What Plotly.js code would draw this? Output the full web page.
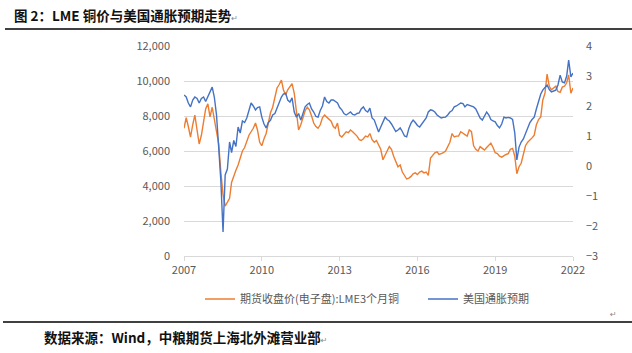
<!DOCTYPE html>
<html><head><meta charset="utf-8">
<script src="https://cdn.plot.ly/plotly-3.0.1.min.js"></script>
<style>body{margin:0;background:#fff}#chart{width:632px;height:353px}</style>
</head><body><div id="chart"></div>
<script>
// Monthly observations starting May 2007
const startYear = 2007, startMonth = 5;
const copper = [
7300,7900,7400,6800,7500,8050,7200,6400,6900,7600,8400,8700,7950,8500,7800,7300,6400,4800,3500,2850,
3050,3300,4200,4600,4900,5200,5600,6000,6200,6600,6900,7100,7300,7600,7200,6500,6300,6700,7000,7600,
8200,8500,9100,9600,9800,10050,9500,9200,9500,9700,9850,9300,8200,7200,7500,7900,8300,8500,8350,8000,
7600,7400,7300,7500,7900,8050,7950,7850,7700,7400,7300,7600,6900,6800,6950,7100,7050,7200,7100,7000,
6850,6650,6600,6700,6850,6800,7000,6650,6500,6600,6300,6100,5500,5800,6000,6250,6100,5700,5450,5100,
5200,4800,4600,4400,4450,4550,4700,4750,4650,4800,4850,4750,4800,4600,5600,5750,5900,5950,5800,5850,
5900,6000,6300,6500,7000,6800,6850,6850,7100,7000,6900,6850,7200,7100,6300,6100,6000,6250,6150,6050,
6200,6350,6450,6200,5900,5850,5700,5650,5750,5800,5850,6100,6150,5700,4700,5100,5300,5900,6300,6500,
6600,6750,6900,7500,7800,7950,8900,9300,10400,9700,9500,9600,9700,9400,9350,9650,9700,9900,10350,9300,
9600];
const inflation = [
2.37,2.30,2.10,1.97,2.20,2.30,2.25,2.10,2.25,2.30,2.15,2.30,2.50,2.63,2.30,1.70,0.60,-0.50,-2.20,-0.30,
-0.10,0.80,0.45,0.85,0.65,1.30,1.10,1.50,1.45,1.60,1.85,2.10,2.00,1.87,1.95,1.97,1.63,1.40,1.27,1.45,
1.53,1.70,1.75,1.93,2.10,2.30,2.40,2.43,2.20,2.13,2.27,1.80,1.63,1.75,1.53,1.75,1.97,2.05,2.10,1.90,
1.80,1.65,1.63,1.85,2.00,2.30,2.15,2.10,2.20,2.20,2.15,2.10,1.95,1.87,1.75,1.70,1.75,1.80,1.72,1.70,
1.75,1.77,1.90,1.97,1.85,1.80,1.93,1.60,1.53,1.30,1.13,1.30,1.45,1.63,1.55,1.50,1.40,1.27,1.15,1.20,
1.27,1.15,1.00,0.97,1.25,1.43,1.53,1.45,1.35,1.30,1.40,1.53,1.60,1.80,1.87,1.85,1.80,1.70,1.65,1.60,
1.62,1.63,1.70,1.80,1.85,1.97,2.00,2.05,2.10,2.08,1.97,2.05,2.03,2.00,1.97,1.90,1.75,1.60,1.53,1.65,
1.80,1.70,1.55,1.50,1.47,1.35,1.27,1.40,1.63,1.60,1.62,1.60,1.55,1.10,0.20,0.63,0.80,0.90,1.10,1.25,
1.45,1.55,1.63,1.90,2.20,2.40,2.53,2.60,2.70,2.55,2.47,2.50,2.53,2.70,3.03,2.80,2.77,3.00,3.53,2.97,
3.10];
const tickYears = [2007, 2010, 2013, 2016, 2019, 2022];
const seriesNames = ['期货收盘价(电子盘):LME3个月铜', '美国通胀预期'];
const titleText = '图 2：LME 铜价与美国通胀预期走势';
const sourceText = '数据来源：Wind，中粮期货上海北外滩营业部';

function monthDate(i) {
  const t = (startYear * 12 + (startMonth - 1)) + i;
  const y = Math.floor(t / 12), m = t % 12 + 1;
  return y + '-' + String(m).padStart(2, '0') + '-01';
}
const dates = copper.map((_, i) => monthDate(i));
const tickVals = tickYears.map(y => y + '-' + String(startMonth).padStart(2, '0') + '-01');
const tickText = tickYears.map(String);

const font = 'Noto Sans CJK SC, Noto Sans, sans-serif';
const gray = '#595959';
const mark = '<span style="font-family:DejaVu Sans;font-size:8px;color:#888;font-weight:normal">↵</span>';
const traces = [
  {x: dates, y: copper, name: seriesNames[0], type: 'scatter', mode: 'lines',
   line: {color: '#ED7D31', width: 1.4}, yaxis: 'y', legend: 'legend'},
  {x: dates, y: inflation, name: seriesNames[1], type: 'scatter', mode: 'lines',
   line: {color: '#4472C4', width: 1.4}, yaxis: 'y2', legend: 'legend2'}
];
const L = 184, PW = 389, T = 46, PH = 210;
const px = v => (v - L) / PW, py = v => (T + PH - v) / PH;
const legendStyle = (x) => ({orientation: 'h', x: px(x), xanchor: 'left', y: py(299), yanchor: 'middle',
  font: {family: font, size: 11, color: gray}, itemwidth: 30, bgcolor: 'rgba(0,0,0,0)'});
const layout = {
  width: 632, height: 353,
  margin: {l: L, r: 632 - L - PW, t: T, b: 353 - T - PH},
  paper_bgcolor: '#fff', plot_bgcolor: '#fff',
  font: {family: font, size: 11, color: gray},
  showlegend: true,
  legend: legendStyle(200),
  legend2: legendStyle(423),
  xaxis: {type: 'date', range: [dates[0], dates[dates.length - 1]], tickvals: tickVals, ticktext: tickText,
          showgrid: false, showline: true, linecolor: '#D9D9D9', linewidth: 1,
          ticks: 'outside', ticklen: 4, tickcolor: '#D9D9D9', zeroline: false,
          tickfont: {family: font, size: 11, color: gray}},
  yaxis: {range: [0, 12000], dtick: 2000, tickformat: ',d', showgrid: true, gridcolor: '#D9D9D9',
          gridwidth: 1, zeroline: false, showline: false, ticks: '', ticklabelstandoff: 13,
          tickfont: {family: font, size: 11, color: gray}},
  yaxis2: {range: [-3, 4], dtick: 1, overlaying: 'y', side: 'right', showgrid: false,
           zeroline: false, showline: false, ticks: '', ticklabelstandoff: 12,
           tickfont: {family: font, size: 11, color: gray}},
  shapes: [
    {type: 'line', xref: 'paper', yref: 'paper', x0: px(5), x1: px(632), y0: py(29), y1: py(29),
     line: {color: '#000', width: 1.3}},
    {type: 'line', xref: 'paper', yref: 'paper', x0: px(3), x1: px(632), y0: py(322), y1: py(322),
     line: {color: '#000', width: 1.3}}
  ],
  annotations: [
    {text: '<b>' + titleText + '</b>' + mark, xref: 'paper', yref: 'paper', x: px(12), y: py(15),
     xanchor: 'left', yanchor: 'middle', showarrow: false,
     font: {family: font, size: 13.5, color: '#111'}},
    {text: '<b>' + sourceText + '</b>' + mark, xref: 'paper', yref: 'paper', x: px(42), y: py(337),
     xanchor: 'left', yanchor: 'middle', showarrow: false,
     font: {family: font, size: 13.5, color: '#111'}},
    {text: '↵', xref: 'paper', yref: 'paper', x: px(608), y: py(314), xanchor: 'left', yanchor: 'middle',
     showarrow: false, font: {family: 'DejaVu Sans', size: 8, color: '#888'}}
  ]
};
Plotly.newPlot('chart', traces, layout, {displayModeBar: false, staticPlot: true});
</script>
</body></html>
